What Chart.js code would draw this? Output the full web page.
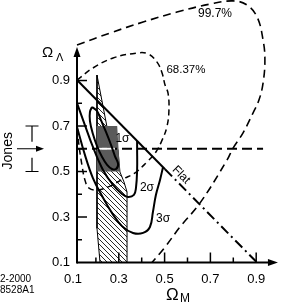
<!DOCTYPE html>
<html><head><meta charset="utf-8">
<script src="https://cdn.jsdelivr.net/npm/chart.js@4"></script>
<style>html,body{margin:0;padding:0;background:#fff;overflow:hidden}canvas{display:block}</style>
</head><body>
<canvas id="c" width="282" height="307"></canvas>
<script>
// ---- tick labels ----
const X_TICKS = [0.1, 0.3, 0.5, 0.7, 0.9];
const Y_TICKS = [0.1, 0.3, 0.5, 0.7, 0.9];
const MAJOR_MARKS = [0.3, 0.5, 0.7, 0.9];
const MINOR_MARKS = [0.2, 0.4, 0.6, 0.8];
const AXIS_X0 = 0.1175;   // where the vertical axis stands
const AXIS_Y0 = 0.1;
const AXIS_X_END = 0.995;
const AXIS_Y_END = 1.047;

// ---- 99.7% contour ----
const C997_X = [0.1175,0.262,0.406,0.554,0.698,0.799,0.860,0.904,0.930,0.938,0.930,0.912,0.886,0.842,0.799,0.773,0.655,0.567,0.502,0.445];
const C997_Y = [1.056,1.109,1.157,1.201,1.236,1.250,1.232,1.179,1.078,0.990,0.889,0.814,0.757,0.669,0.603,0.551,0.362,0.256,0.168,0.100];
// ---- 68.37% contour ----
const C68_X = [0.1175,0.187,0.275,0.380,0.428,0.467,0.489,0.502,0.515,0.519,0.510,0.489,0.462,0.423,0.371,0.318,0.262,0.209,0.170,0.152,0.139,0.126,0.1175];
const C68_Y = [0.902,0.955,0.999,1.021,1.017,0.981,0.933,0.880,0.845,0.770,0.696,0.638,0.586,0.542,0.494,0.467,0.436,0.419,0.427,0.463,0.529,0.616,0.704];
// ---- sigma contours ----
const S1_X = [0.183,0.205,0.222,0.244,0.266,0.283,0.297,0.288,0.270,0.249,0.227,0.205,0.187,0.174,0.174,0.183];
const S1_Y = [0.784,0.766,0.726,0.674,0.617,0.568,0.533,0.511,0.511,0.529,0.564,0.612,0.665,0.722,0.762,0.784];
const S2_X = [0.1175,0.152,0.187,0.231,0.275,0.314,0.340,0.366,0.375,0.380,0.380,0.380];
const S2_Y = [0.801,0.704,0.608,0.507,0.441,0.401,0.388,0.397,0.428,0.507,0.603,0.634];
const S3_X = [0.1175,0.152,0.187,0.227,0.270,0.314,0.362,0.406,0.436,0.449,0.462,0.480,0.493];
const S3_Y = [0.696,0.573,0.471,0.392,0.318,0.260,0.230,0.230,0.256,0.322,0.397,0.463,0.519];
// ---- flat universe line ----
const FLAT_X = [0.1175, 0.502, 0.9035];
const FLAT_Y = [0.902, 0.510, 0.100];
// ---- Jones value ----
const JONES = [0.5, 0.6, 0.7];
const JONES_LINE_X = [0.1175, 0.93];
// ---- allowed regions ----
const HATCH_X = [0.2048,0.2048,0.218,0.336,0.336,0.3227,0.305,0.2965,0.2485,0.2048];
const HATCH_Y = [0.924,0.250,0.100,0.100,0.410,0.454,0.498,0.5945,0.6956,0.924];
const BOX_X = [0.203,0.293,0.305,0.203];
const BOX_Y = [0.700,0.700,0.500,0.500];
const WHITE_X = [0.2048, 0.283];

const pt = (xs, ys) => xs.map((x, i) => ({x, y: ys[i]}));

function hatchPattern() {
  const c = document.createElement('canvas'); c.width = 5; c.height = 5;
  const g = c.getContext('2d');
  g.strokeStyle = '#111'; g.lineWidth = 0.9; g.beginPath();
  for (const o of [-5, 0, 5]) { g.moveTo(o, 0); g.lineTo(o + 5, 5); }
  g.stroke();
  return g.createPattern(c, 'repeat');
}

const FONT = '"Liberation Sans", Arial, Helvetica, sans-serif';
const base = {showLine: true, pointRadius: 0, borderColor: '#000', fill: false, tension: 0};

const decor = {
  id: 'decor',
  afterDatasetsDraw(chart) {
    const {ctx, scales: {x, y}} = chart;
    const X = v => x.getPixelForValue(v), Y = v => y.getPixelForValue(v);
    ctx.save();
    ctx.strokeStyle = '#000'; ctx.fillStyle = '#000'; ctx.lineCap = 'butt';
    const ox = X(AXIS_X0), oy = Y(AXIS_Y0);
    // axes
    ctx.lineWidth = 2;
    ctx.beginPath(); ctx.moveTo(ox, oy); ctx.lineTo(X(AXIS_X_END) - 6, oy); ctx.stroke();
    ctx.beginPath(); ctx.moveTo(ox, oy + 1); ctx.lineTo(ox, Y(AXIS_Y_END) + 6); ctx.stroke();
    // arrow heads
    ctx.beginPath(); ctx.moveTo(X(AXIS_X_END), oy); ctx.lineTo(X(AXIS_X_END) - 10, oy - 3.5); ctx.lineTo(X(AXIS_X_END) - 10, oy + 3.5); ctx.closePath(); ctx.fill();
    ctx.beginPath(); ctx.moveTo(ox, Y(AXIS_Y_END)); ctx.lineTo(ox - 3.5, Y(AXIS_Y_END) + 10); ctx.lineTo(ox + 3.5, Y(AXIS_Y_END) + 10); ctx.closePath(); ctx.fill();
    // ticks
    ctx.lineWidth = 1.5;
    const tk = (v, len) => {
      ctx.beginPath(); ctx.moveTo(X(v), oy); ctx.lineTo(X(v), oy - len); ctx.stroke();
      ctx.beginPath(); ctx.moveTo(ox, Y(v)); ctx.lineTo(ox + len, Y(v)); ctx.stroke();
    };
    MAJOR_MARKS.forEach(v => tk(v, 10));
    MINOR_MARKS.forEach(v => tk(v, 5));
    // Jones marker (left margin)
    const jx = 32, yl = Y(JONES[0]), yc = Y(JONES[1]), yh = Y(JONES[2]);
    ctx.lineWidth = 1.2;
    ctx.beginPath();
    ctx.moveTo(jx - 6.5, yh); ctx.lineTo(jx + 6.5, yh);
    ctx.moveTo(jx, yh); ctx.lineTo(jx, yc - 7);
    ctx.moveTo(jx, yc + 9); ctx.lineTo(jx, yl);
    ctx.moveTo(jx - 6.5, yl); ctx.lineTo(jx + 6.5, yl);
    ctx.moveTo(17, yc); ctx.lineTo(38, yc);
    ctx.stroke();
    ctx.beginPath(); ctx.moveTo(44, yc); ctx.lineTo(36, yc - 3); ctx.lineTo(36, yc + 3); ctx.closePath(); ctx.fill();
    ctx.restore();
  },
  afterDraw(chart) {
    const {ctx, scales: {x, y}} = chart;
    const X = v => x.getPixelForValue(v), Y = v => y.getPixelForValue(v);
    ctx.save();
    ctx.fillStyle = '#000';
    ctx.textAlign = 'center'; ctx.textBaseline = 'middle';
    ctx.font = '12px ' + FONT;
    ctx.fillText('1σ', X(0.316), Y(0.643));
    ctx.fillText('2σ', X(0.423), Y(0.430));
    ctx.fillText('3σ', X(0.493), Y(0.291));
    ctx.fillText('99.7%', X(0.720), Y(1.192));
    ctx.font = '11.5px ' + FONT;
    ctx.fillText('68.37%', X(0.593), Y(0.946));
    ctx.save();
    ctx.font = '12px ' + FONT;
    ctx.translate(X(0.572), Y(0.485)); ctx.rotate(Math.PI / 4);
    ctx.fillText('Flat', 0, 0);
    ctx.restore();
    ctx.save();
    ctx.font = '14px ' + FONT;
    ctx.translate(8, Y(JONES[1]) + 2); ctx.rotate(-Math.PI / 2);
    ctx.fillText('Jones', 0, 0);
    ctx.restore();
    // axis titles
    ctx.textAlign = 'left'; ctx.textBaseline = 'alphabetic';
    ctx.font = '15px ' + FONT; ctx.fillText('Ω', 42, 57);
    ctx.font = '11px ' + FONT; ctx.fillText('Λ', 56, 61);
    ctx.font = '17px ' + FONT; ctx.fillText('Ω', 166, 300);
    ctx.font = '12px ' + FONT; ctx.fillText('M', 180, 302);
    ctx.font = '10px ' + FONT;
    ctx.fillText('2-2000', 0, 282);
    ctx.fillText('8528A1', 0, 293);
    ctx.restore();
  }
};

new Chart(document.getElementById('c'), {
  type: 'scatter',
  data: {
    datasets: [
      {...base, data: pt(HATCH_X, HATCH_Y), borderWidth: 1, backgroundColor: hatchPattern(), fill: 'shape', order: 10},
      {...base, data: pt(BOX_X, BOX_Y), borderWidth: 0, borderColor: 'rgba(0,0,0,0)', backgroundColor: '#5a5a5a', fill: 'shape', order: 9},
      {...base, data: pt(JONES_LINE_X, [JONES[1], JONES[1]]), borderWidth: 1.8, borderDash: [10, 5], order: 3},
      {...base, data: pt(WHITE_X, [JONES[1], JONES[1]]), borderWidth: 2, borderColor: '#fff', order: 2},
      {...base, data: pt(FLAT_X.slice(0, 2), FLAT_Y.slice(0, 2)), borderWidth: 2, order: 4},
      {...base, data: pt(FLAT_X.slice(1), FLAT_Y.slice(1)), borderWidth: 2, borderDash: [10, 4, 2, 4], order: 4},
      {...base, data: pt(S1_X, S1_Y), borderWidth: 2, tension: 0.4, order: 1},
      {...base, data: pt(S2_X, S2_Y), borderWidth: 2, tension: 0.4, order: 4},
      {...base, data: pt(S3_X, S3_Y), borderWidth: 2, tension: 0.4, order: 4},
      {...base, data: pt(C68_X, C68_Y), borderWidth: 1.5, borderDash: [6, 4], tension: 0.4, order: 5},
      {...base, data: pt(C997_X, C997_Y), borderWidth: 1.6, borderDash: [8, 5], tension: 0.4, order: 5}
    ]
  },
  options: {
    responsive: false, animation: false, devicePixelRatio: 1,
    layout: {padding: 0},
    plugins: {legend: {display: false}, tooltip: {enabled: false}},
    scales: {
      x: {
        type: 'linear', min: 0.1, max: 1.0127,
        grid: {display: false, drawTicks: false}, border: {display: false},
        afterBuildTicks: s => { s.ticks = X_TICKS.map(v => ({value: v})); },
        afterFit: s => { s.height = 44.5; s.paddingLeft = 0; s.paddingRight = 0; },
        ticks: {color: '#000', font: {family: FONT, size: 13}, padding: 9, maxRotation: 0, autoSkip: false, callback: v => v.toFixed(1)}
      },
      y: {
        type: 'linear', min: 0.1, max: 1.254,
        grid: {display: false, drawTicks: false}, border: {display: false},
        afterBuildTicks: s => { s.ticks = Y_TICKS.map(v => ({value: v})); },
        afterFit: s => { s.width = 73; s.paddingTop = 0; s.paddingBottom = 0; },
        ticks: {color: '#000', font: {family: FONT, size: 13}, padding: 3, autoSkip: false, callback: v => v.toFixed(1)}
      }
    }
  },
  plugins: [decor]
});
</script>
</body></html>
